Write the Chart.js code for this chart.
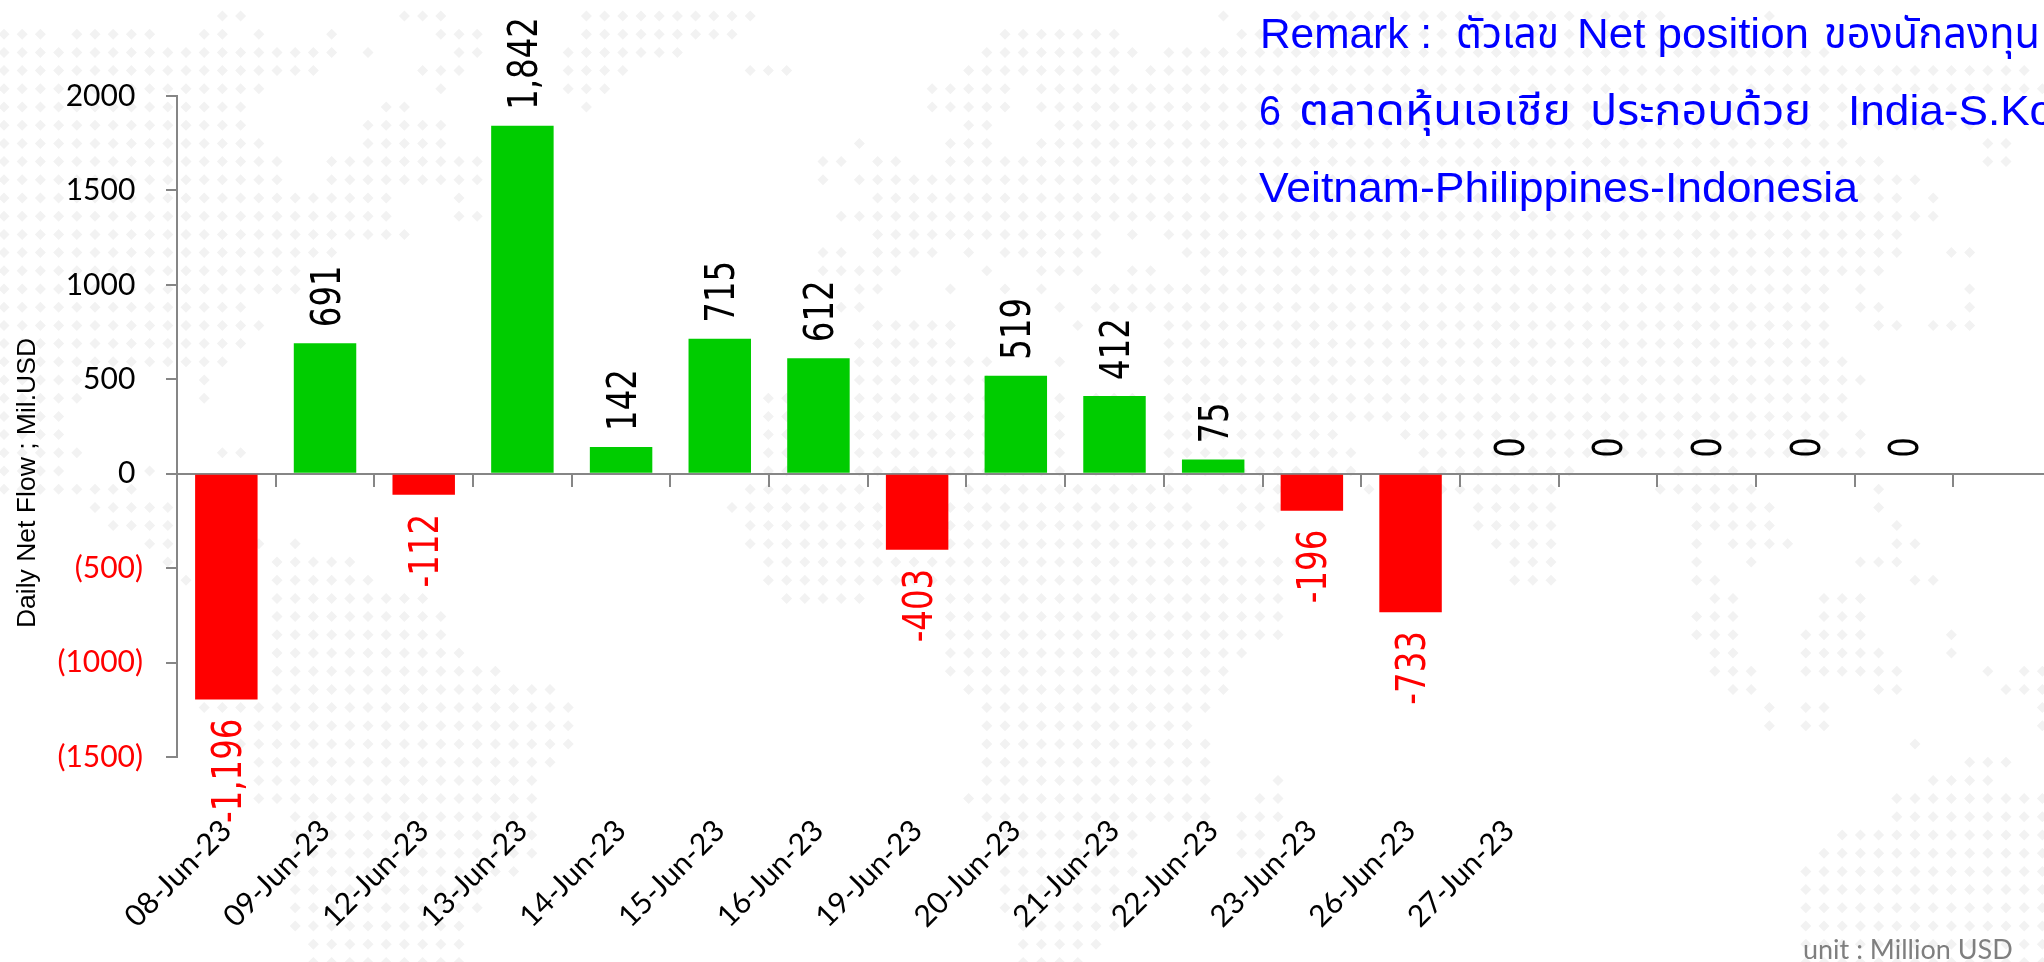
<!DOCTYPE html>
<html>
<head>
<meta charset="utf-8">
<script src="https://cdn.jsdelivr.net/npm/chart.js@4"></script>
<style>
    html, body { margin: 0; padding: 0; background: #fff; overflow: hidden; }
    canvas { display: block; }
</style>
</head>
<body>
<canvas id="flowChart" width="2052" height="962"></canvas>
<script>
// Chart data
const categories = ['08-Jun-23', '09-Jun-23', '12-Jun-23', '13-Jun-23', '14-Jun-23', '15-Jun-23', '16-Jun-23',
    '19-Jun-23', '20-Jun-23', '21-Jun-23', '22-Jun-23', '23-Jun-23', '26-Jun-23', '27-Jun-23', '', '', '', '', ''];
const netFlow = [-1196, 691, -112, 1842, 142, 715, 612, -403, 519, 412, 75, -196, -733, 0, 0, 0, 0, 0, null];
const yTicks = [2000, 1500, 1000, 500, 0, -500, -1000, -1500];

// Texts around the chart. Remark pieces are [text, left, right, baseline]
const remarkPieces = [
    ['Remark :', 1260, 1432, 48],
    ['ตัวเลข', 1456, 1559, 48],
    ['Net position', 1577, 1809, 48],
    ['ของนักลงทุน', 1824, 2040, 48],
    ['6', 1259, 1281, 125],
    ['ตลาดหุ้นเอเชีย', 1299, 1571, 125],
    ['ประกอบด้วย', 1590, 1811, 125],
    ['India-S.Korea', 1848, 2118, 125],
    ['Veitnam-Philippines-Indonesia', 1259, 1858, 202]
];
const axisTitle = 'Daily Net Flow ; Mil.USD';
const unitText = 'unit : Million USD';

// Dotted world map behind the chart, one entry per row of dots, column ranges
const mapRows = [
    '12-13 22-24 32-41 67 71-91 97',
    '0-2 4-8 11-12 14 18 24-26 32-40 55-61 68-93',
    '0-18 20 25-26 31-37 54-62 64-100',
    '0-17 23-25 31-34 41-43 53-61 63-111',
    '0-14 24 31-33 51-55 57-112',
    '0-13 21-22 32 51-55 57-108',
    '0-13 20-24 53-54 58-108',
    '0-14 20-24 47 52-54 57-101 109-110',
    '0-15 18-26 45-46 48-49 52-103 109-110',
    '0-15 18-26 45 47-105',
    '0-21 25 48-104 106',
    '0-21 25-26 46-106',
    '0-22 48-60 62 64-104',
    '0-18 45-46 48-51 53 55-60 65-104 107-108',
    '0-16 45-49 54 57-59 62-63 66-103',
    '0-16 47-48 52 55 57 60-100 102 108',
    '0-13 46-47 58 60-100 102-103 108',
    '0-14 48-52 59 64-100 103-104 106-108',
    '0-13 47-52 64-100',
    '0-12 47-54 58 64-101',
    '0-4 11 47-54 64-102',
    '0-4 11 42-43 47-58 60-62 64-101',
    '0-3 42-43 47-58 60-62 64-101',
    '0-3 42-43 47-58 60-62 64-73 77-100 102',
    '0-4 12-13 42-43 47-58 60-62 64-74 78-102',
    '0-3 8 42-43 47-58 60-62 64-74 78-86 92-95',
    '0-7 41-47 53-65 67-70 75 79-85 91-96 103',
    '5-9 40-65 68-70 81-85 93-97 103',
    '6-9 41-69 81-85 93-97 104',
    '8-9 14 16 41-67 82-85 93 95-98 104-105',
    '9 15-19 42-71 83-85 93 96 102-104',
    '10 15-20 42-70 83-85 93-94 105-106',
    '15-23 43-47 52-70 94-95 100-102',
    '15-24 52-70 93-95 100-102',
    '15-24 52-70 93-95 99-102 107',
    '15-25 52-68 94-95 99-103 107',
    '15-27 52-67 94-96 99-104 109 111-112',
    '15-30 53-67 95-96 103-104 110-112',
    '11-31 54-66 97 99-100 112',
    '14-31 54-65 97 99-100 112',
    '13-31 54-66 105',
    '14-30 54-66 108-110',
    '14-29 54-66 70 106-109',
    '14-29 53-66 69-70 104-112',
    '16-29 54-66 68-70 104-112',
    '16-29 55-62 68-69 101-112',
    '16-29 55-62 68-69 100-112',
    '16-28 55-62 99-112',
    '16-26 55-61 99-112',
    '16-26 55-61 99-112',
    '16-25 56-61 99-112',
    '17-25 56-60 99-112',
    '17-25 56-59 99-112'
];

const GREEN = '#00CC00';
const RED = '#FF0000';
const AXIS_GREY = '#868686';

const dotMapPlugin = {
    id: 'dotMap',
    beforeDraw: function(chart) {
        const ctx = chart.ctx;
        ctx.save();
        ctx.fillStyle = '#F2F2F2';
        mapRows.forEach(function(row, r) {
            const y = 16 + 18.2 * r;
            row.split(' ').forEach(function(range) {
                const parts = range.split('-').map(Number);
                const end = parts.length > 1 ? parts[1] : parts[0];
                for (let c = parts[0]; c <= end; c++) {
                    const x = 4 + 18.2 * c;
                    ctx.beginPath();
                    ctx.moveTo(x - 5.5, y);
                    ctx.lineTo(x, y - 5.5);
                    ctx.lineTo(x + 5.5, y);
                    ctx.lineTo(x, y + 5.5);
                    ctx.closePath();
                    ctx.fill();
                }
            });
        });
        ctx.restore();
    }
};

// Rotated value labels, stretched across the text like the original
const barLabelPlugin = {
    id: 'barLabels',
    afterDatasetsDraw: function(chart) {
        const ctx = chart.ctx;
        const meta = chart.getDatasetMeta(0);
        meta.data.forEach(function(bar, i) {
            const v = netFlow[i];
            if (v === null) return;
            const label = v.toLocaleString('en-US');
            ctx.save();
            ctx.translate(bar.x, v < 0 ? bar.y + 19 : bar.y - 16);
            ctx.rotate(-Math.PI / 2);
            ctx.scale(0.81, 1);
            ctx.font = '40px "DejaVu Sans"';
            ctx.textBaseline = 'alphabetic';
            ctx.textAlign = v < 0 ? 'right' : 'left';
            ctx.fillStyle = v < 0 ? RED : '#000';
            ctx.fillText(label, 0, 14.5);
            ctx.restore();
        });
    }
};

const notesPlugin = {
    id: 'notes',
    afterDraw: function(chart) {
        const ctx = chart.ctx;
        ctx.save();
        ctx.fillStyle = '#0000FF';
        ctx.font = '42px "Liberation Sans", "Noto Sans Thai", "Noto Sans"';
        ctx.textAlign = 'left';
        ctx.textBaseline = 'alphabetic';
        // each piece is squeezed or stretched to the width it has in the original
        remarkPieces.forEach(function(piece) {
            ctx.save();
            ctx.translate(piece[1], piece[3]);
            ctx.scale((piece[2] - piece[1]) / ctx.measureText(piece[0]).width, 1);
            ctx.fillText(piece[0], 0, 0);
            ctx.restore();
        });
        ctx.fillStyle = '#7F7F7F';
        ctx.font = '27px Lato';
        ctx.fillText(unitText, 1803, 959);
        ctx.translate(28, 483);
        ctx.rotate(-Math.PI / 2);
        ctx.fillStyle = '#000';
        ctx.font = '26.5px "Liberation Sans"';
        ctx.textAlign = 'center';
        ctx.textBaseline = 'middle';
        ctx.fillText(axisTitle, 0, 0);
        ctx.restore();
    }
};

new Chart(document.getElementById('flowChart'), {
    type: 'bar',
    data: {
        labels: categories,
        datasets: [{
            data: netFlow,
            backgroundColor: netFlow.map(function(v) { return v < 0 ? RED : GREEN; }),
            borderWidth: 0,
            barPercentage: 0.633,
            categoryPercentage: 1
        }]
    },
    options: {
        responsive: false,
        animation: false,
        layout: { padding: { top: 96, right: 0, bottom: 0, left: 0 } },
        plugins: { legend: { display: false }, tooltip: { enabled: false } },
        scales: {
            x: {
                position: 'bottom',
                border: { display: false },
                grid: { display: false },
                ticks: {
                    autoSkip: false,
                    minRotation: 45,
                    maxRotation: 45,
                    padding: 48,
                    color: '#000',
                    font: { family: 'Lato', size: 30 }
                },
                afterFit: function(scale) {
                    scale.height = 205;
                    scale.paddingLeft = 0;
                    scale.paddingRight = 0;
                }
            },
            // Zero line with the tick marks, date labels stay at the bottom
            x0: {
                type: 'category',
                axis: 'x',
                labels: categories,
                position: { y: 0 },
                offset: true,
                border: { color: AXIS_GREY, width: 2 },
                grid: { drawOnChartArea: false, offset: true, tickLength: 12, color: AXIS_GREY, lineWidth: 2 },
                ticks: { display: false, autoSkip: false },
                afterFit: function(scale) {
                    scale.paddingLeft = 0;
                    scale.paddingRight = 0;
                }
            },
            y: {
                min: yTicks[yTicks.length - 1],
                max: yTicks[0],
                afterBuildTicks: function(scale) {
                    scale.ticks = yTicks.map(function(v) { return { value: v }; });
                },
                border: { color: AXIS_GREY, width: 2 },
                grid: { drawOnChartArea: false, tickLength: 11, color: AXIS_GREY, lineWidth: 2 },
                ticks: {
                    padding: 23,
                    font: { family: 'Lato', size: 30 },
                    color: function(context) {
                        return context.tick.value < 0 ? RED : '#000';
                    },
                    callback: function(value) {
                        return value < 0 ? '(' + Math.abs(value) + ')' : value + '\u00A0';
                    }
                },
                afterFit: function(scale) { scale.width = 177; }
            }
        }
    },
    plugins: [dotMapPlugin, barLabelPlugin, notesPlugin]
});
</script>
</body>
</html>
